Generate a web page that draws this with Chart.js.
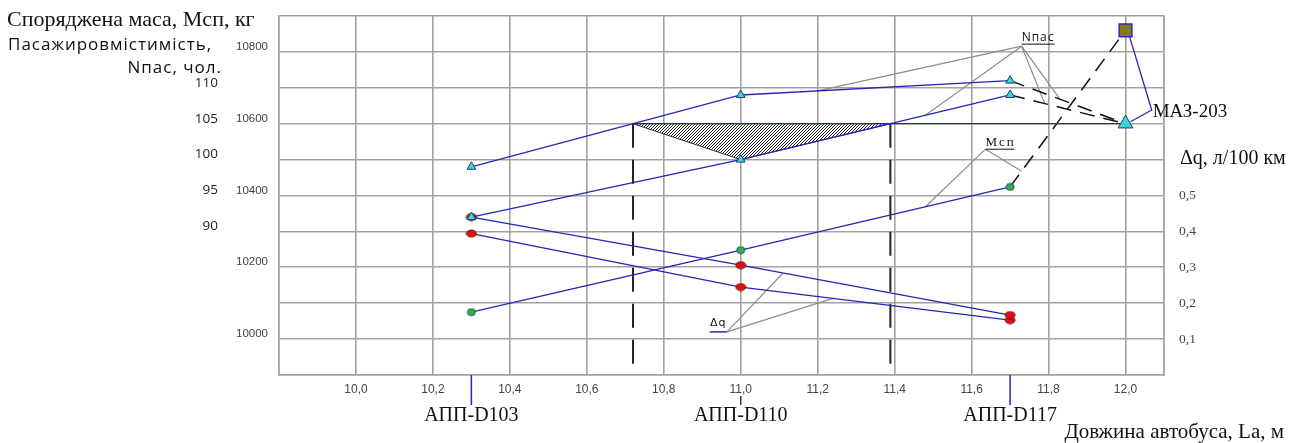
<!DOCTYPE html>
<html lang="uk">
<head>
  <meta charset="UTF-8" />
  <title>Автобуси АПП - маса, пасажировмісткість, витрата палива</title>
  <script src="https://cdn.jsdelivr.net/npm/chart.js@4.4.1/dist/chart.umd.min.js"></script>
  <style>
    body {
      margin: 0;
      background: #fff;
    }
    #wrap {
      width: 1303px;
      height: 443px;
    }
  </style>
</head>
<body>
  <div id="wrap">
    <canvas id="chart" width="1303" height="443"></canvas>
  </div>

  <script>
    // моделі та довжина, м
    const busNames = ['АПП-D103', 'АПП-D110', 'АПП-D117'];
    const busLength = [10.3, 11.0, 11.7];
    // пасажировмісткість, чол. (дві лінії)
    const npasUpper = [99, 109, 111];
    const npasLower = [92, 100, 109];
    // споряджена маса, кг
    const massKerb = [10075, 10248, 10424];
    // Δq, л/100 км
    const dqUpper = [0.44, 0.306, 0.167];
    const dqLower = [0.394, 0.245, 0.153];
    // МАЗ-203
    const mazName = 'МАЗ-203';
    const mazLength = 12.0;
    const mazNpas = 105;
    const mazMass = 10860;

    const xTickVals = [10.0, 10.2, 10.4, 10.6, 10.8, 11.0, 11.2, 11.4, 11.6, 11.8, 12.0];
    const xTickLabels = ['10,0', '10,2', '10,4', '10,6', '10,8', '11,0', '11,2', '11,4', '11,6', '11,8', '12,0'];
    const massTickVals = [10000, 10200, 10400, 10600, 10800];
    const npasTickVals = [90, 95, 100, 105, 110];
    const dqTickVals = [0.1, 0.2, 0.3, 0.4, 0.5];
    const dqTickLabels = ['0,1', '0,2', '0,3', '0,4', '0,5'];

    const BLUE = '#2626b4';
    const GRID = '#a2a2a2';

    function pts(xs, ys) {
      return xs.map((x, i) => ({ x: x, y: ys[i] }));
    }
    function interp(xs, ys, x) {
      for (let i = 0; i < xs.length - 1; i++) {
        if (x >= xs[i] && x <= xs[i + 1]) {
          return ys[i] + (ys[i + 1] - ys[i]) * (x - xs[i]) / (xs[i + 1] - xs[i]);
        }
      }
      return ys[ys.length - 1];
    }
    function crossX(xs, ys, level) {
      for (let i = 0; i < xs.length - 1; i++) {
        if ((ys[i] - level) * (ys[i + 1] - level) <= 0) {
          return xs[i] + (xs[i + 1] - xs[i]) * (level - ys[i]) / (ys[i + 1] - ys[i]);
        }
      }
      return xs[0];
    }
    function ellipse(w, h, fill, stroke) {
      const c = document.createElement('canvas');
      c.width = w + 2; c.height = h + 2;
      const g = c.getContext('2d');
      g.beginPath();
      g.ellipse(c.width / 2, c.height / 2, w / 2, h / 2, 0, 0, Math.PI * 2);
      g.fillStyle = fill; g.fill();
      g.lineWidth = 1; g.strokeStyle = stroke; g.stroke();
      return c;
    }

    // точки перетину з рівнем МАЗ-203
    const xLeft = crossX(busLength, npasUpper, mazNpas);
    const xRight = crossX(busLength, npasLower, mazNpas);

    const redDot = ellipse(10, 7, '#e01010', '#6a1010');
    const greenDot = ellipse(8, 7, '#30b050', '#1f5a30');

    function lineDs(data, axis, extra) {
      return Object.assign({
        data: data, yAxisID: axis, showLine: true, borderColor: BLUE, borderWidth: 1.3,
        pointRadius: 0, fill: false, tension: 0
      }, extra || {});
    }

    const triPt = { pointStyle: 'triangle', pointRadius: 5, pointBackgroundColor: '#3cd6d6', pointBorderColor: '#1d3f6e', pointBorderWidth: 1 };
    const dashBlack = { borderColor: '#111', borderWidth: 1.5, borderDash: [15, 9] };
    const dashVert = { borderColor: '#222', borderWidth: 2, borderDash: [24, 12] };

    const datasets = [
      lineDs(pts([mazLength], [mazNpas]), 'yN', { pointStyle: 'triangle', pointRadius: 8.5, pointBackgroundColor: '#3cd6d6', pointBorderColor: '#1d3f6e', pointBorderWidth: 1 }),
      lineDs(pts([mazLength], [mazMass]), 'yMass', { pointStyle: 'rect', pointRadius: 9, pointBackgroundColor: '#857a16', pointBorderColor: '#2a2ac0', pointBorderWidth: 1.5 }),
      lineDs(pts(busLength, npasUpper), 'yN', triPt),
      lineDs(pts(busLength, npasLower), 'yN', triPt),
      lineDs(pts(busLength, dqUpper), 'yDq', { pointStyle: redDot, pointRadius: 5 }),
      lineDs(pts(busLength, dqLower), 'yDq', { pointStyle: redDot, pointRadius: 5 }),
      lineDs(pts(busLength, massKerb), 'yMass', { pointStyle: greenDot, pointRadius: 4 }),
      lineDs(pts([xLeft, mazLength], [mazNpas, mazNpas]), 'yN'),
      lineDs(pts([busLength[2], mazLength], [npasUpper[2], mazNpas]), 'yN', dashBlack),
      lineDs(pts([busLength[2], mazLength], [npasLower[2], mazNpas]), 'yN', dashBlack),
      lineDs(pts([busLength[2], mazLength], [massKerb[2], mazMass]), 'yMass', dashBlack),
      lineDs(pts([xLeft, xLeft], [mazNpas, 70]), 'yN', dashVert),
      lineDs(pts([xRight, xRight], [mazNpas, 70]), 'yN', dashVert)
    ];

    // штрихування
    function hatchPattern(ctx) {
      const c = document.createElement('canvas');
      c.width = 3; c.height = 3;
      const g = c.getContext('2d');
      g.fillStyle = '#fff'; g.fillRect(0, 0, 3, 3);
      g.strokeStyle = '#222'; g.lineWidth = 1;
      g.beginPath();
      g.moveTo(-1, 4); g.lineTo(4, -1);
      g.moveTo(-1, 1); g.lineTo(1, -1);
      g.moveTo(2, 4); g.lineTo(4, 2);
      g.stroke();
      return ctx.createPattern(c, 'repeat');
    }

    const decor = {
      id: 'decor',
      beforeDatasetsDraw(chart) {
        const { ctx, scales } = chart;
        const x = scales.x, yN = scales.yN;
        ctx.save();
        ctx.beginPath();
        ctx.moveTo(x.getPixelForValue(xLeft), yN.getPixelForValue(mazNpas));
        ctx.lineTo(x.getPixelForValue(busLength[1]), yN.getPixelForValue(npasLower[1]));
        ctx.lineTo(x.getPixelForValue(xRight), yN.getPixelForValue(mazNpas));
        ctx.closePath();
        ctx.fillStyle = hatchPattern(ctx);
        ctx.fill();
        ctx.strokeStyle = '#333'; ctx.lineWidth = 1;
        ctx.stroke();

        // виноски
        ctx.strokeStyle = '#8c8c8c'; ctx.lineWidth = 1.2;
        const leader = (ax, ay, targets) => {
          targets.forEach(t => {
            ctx.beginPath(); ctx.moveTo(ax, ay); ctx.lineTo(t[0], t[1]); ctx.stroke();
          });
        };
        const P = (xv, yv, sc) => [x.getPixelForValue(xv), sc.getPixelForValue(yv)];
        const nAnchor = P(11.73, 115.8, yN);
        leader(nAnchor[0], nAnchor[1], [
          P(11.2, interp(busLength, npasUpper, 11.2), yN),
          P(11.48, interp(busLength, npasLower, 11.48), yN),
          P(11.79, interp([busLength[2], mazLength], [npasLower[2], mazNpas], 11.79), yN),
          P(11.83, interp([busLength[2], mazLength], [npasUpper[2], mazNpas], 11.83), yN)
        ]);
        const mAnchor = P(11.636, 10529, scales.yMass);
        leader(mAnchor[0], mAnchor[1], [
          P(11.48, interp(busLength, massKerb, 11.48), scales.yMass),
          P(11.73, interp([busLength[2], mazLength], [massKerb[2], mazMass], 11.73), scales.yMass)
        ]);
        const qAnchor = P(10.964, 0.12, scales.yDq);
        leader(qAnchor[0], qAnchor[1], [
          P(11.11, interp(busLength, dqUpper, 11.11), scales.yDq),
          P(11.24, interp(busLength, dqLower, 11.24), scales.yDq)
        ]);
        ctx.restore();
      },
      afterDraw(chart) {
        const { ctx, scales, chartArea } = chart;
        const x = scales.x, yN = scales.yN;
        ctx.save();
        ctx.fillStyle = '#111';
        ctx.textBaseline = 'alphabetic';

        // заголовки осей
        ctx.font = '22px "Liberation Serif"';
        ctx.textAlign = 'left';
        ctx.fillText('Споряджена маса, Мсп, кг', 7, 26);
        ctx.font = '17px "Open Sans"';
        ctx.letterSpacing = '1px';
        ctx.fillText('Пасажировмістимість,', 8, 50);
        ctx.textAlign = 'right';
        ctx.fillText('Nпас, чол.', 222, 73);
        ctx.letterSpacing = '0px';

        ctx.textAlign = 'left';
        ctx.font = '20px "Liberation Serif"';
        ctx.fillText('Δq, л/100 км', 1180, 164);
        ctx.font = '21px "Liberation Serif"';
        ctx.textAlign = 'right';
        ctx.fillText('Довжина автобуса, La, м', 1284, 438);

        // підписи моделей
        ctx.textAlign = 'center';
        ctx.font = '20px "Liberation Serif"';
        busNames.forEach((name, i) => {
          const px = x.getPixelForValue(busLength[i]);
          ctx.strokeStyle = BLUE; ctx.lineWidth = 1.5;
          ctx.beginPath();
          ctx.moveTo(px, i === 1 ? chartArea.bottom + 21 : chartArea.bottom);
          ctx.lineTo(px, chartArea.bottom + 30);
          ctx.stroke();
          ctx.fillText(name, px, 421);
        });

        // МАЗ-203
        ctx.font = '19px "Liberation Serif"';
        const sq = [x.getPixelForValue(mazLength), scales.yMass.getPixelForValue(mazMass)];
        const tr = [x.getPixelForValue(mazLength), yN.getPixelForValue(mazNpas)];
        const la = [x.getPixelForValue(12.068), yN.getPixelForValue(106.9)];
        ctx.strokeStyle = BLUE; ctx.lineWidth = 1.3;
        ctx.beginPath();
        ctx.moveTo(sq[0] + 4, sq[1] + 6); ctx.lineTo(la[0], la[1]); ctx.lineTo(tr[0] + 5, tr[1] - 2);
        ctx.stroke();
        ctx.textAlign = 'left';
        ctx.fillText(mazName, la[0] + 1, la[1] + 7);

        // мітки виносок
        const nA = [x.getPixelForValue(11.73), yN.getPixelForValue(115.8)];
        ctx.font = '12px "Open Sans"';
        ctx.letterSpacing = '1px';
        ctx.fillText('Nпас', nA[0], nA[1] - 5);
        ctx.strokeStyle = '#111'; ctx.lineWidth = 1;
        ctx.beginPath(); ctx.moveTo(nA[0], nA[1] - 2); ctx.lineTo(nA[0] + 33, nA[1] - 2); ctx.stroke();

        const mA = [x.getPixelForValue(11.636), scales.yMass.getPixelForValue(10529)];
        ctx.font = '13px "Liberation Serif"';
        ctx.letterSpacing = '2px';
        ctx.fillText('Мсп', mA[0], mA[1] - 3);
        ctx.beginPath(); ctx.moveTo(mA[0], mA[1]); ctx.lineTo(mA[0] + 29, mA[1]); ctx.stroke();

        const qA = [x.getPixelForValue(10.964), scales.yDq.getPixelForValue(0.12)];
        ctx.font = '11px "DejaVu Sans"';
        ctx.letterSpacing = '1px';
        ctx.fillText('Δq', qA[0] - 17, qA[1] - 6);
        ctx.strokeStyle = BLUE; ctx.lineWidth = 1.5;
        ctx.beginPath(); ctx.moveTo(qA[0] - 17, qA[1]); ctx.lineTo(qA[0], qA[1]); ctx.stroke();
        ctx.restore();
      }
    };

    function labelFrom(vals, labels, v) {
      const i = vals.findIndex(t => Math.abs(t - v) < 1e-6);
      return i >= 0 ? labels[i] : '';
    }
    // вертикальні осі без додаткових відступів зверху/знизу
    function fixY(width) {
      return s => { s.width = width; s.paddingTop = 0; s.paddingBottom = 0; };
    }

    new Chart(document.getElementById('chart').getContext('2d'), {
      type: 'scatter',
      data: { datasets: datasets },
      plugins: [decor],
      options: {
        responsive: false,
        animation: false,
        layout: { padding: { top: 16, left: 0, right: 0, bottom: 0 } },
        plugins: { legend: { display: false }, tooltip: { enabled: false } },
        scales: {
          x: {
            type: 'linear', min: 9.8, max: 12.1,
            afterBuildTicks: s => { s.ticks = [9.8].concat(xTickVals, [12.1]).map(v => ({ value: v })); },
            afterFit: s => { s.height = 68; s.paddingLeft = 0; s.paddingRight = 0; },
            grid: { color: GRID, lineWidth: 1.6, drawTicks: false },
            border: { color: GRID, width: 1.6 },
            ticks: {
              padding: 7, color: '#444', font: { family: 'Liberation Sans', size: 12 },
              autoSkip: false, maxRotation: 0,
              callback: v => labelFrom(xTickVals, xTickLabels, v)
            }
          },
          yMass: {
            type: 'linear', position: 'left', weight: 0, min: 9900, max: 10900,
            afterFit: fixY(61),
            grid: { color: GRID, lineWidth: 1.6, drawTicks: false },
            border: { color: GRID, width: 1.6 },
            ticks: {
              stepSize: 100, padding: 11, labelOffset: -5, color: '#444',
              font: { family: 'Liberation Sans', size: 11.5 },
              callback: v => massTickVals.includes(v) ? String(v) : ''
            }
          },
          yN: {
            type: 'linear', position: 'left', weight: 1, min: 70, max: 120,
            afterFit: fixY(218),
            grid: { display: false, drawTicks: false },
            border: { display: false },
            ticks: {
              stepSize: 5, padding: 0, labelOffset: -5, color: '#222',
              font: { family: 'Open Sans', size: 13.5 },
              callback: v => npasTickVals.includes(v) ? String(v) : ''
            }
          },
          yDq: {
            type: 'linear', position: 'right', min: 0, max: 1,
            afterFit: fixY(139),
            grid: { display: false, drawTicks: false },
            border: { color: GRID, width: 1.6 },
            ticks: {
              stepSize: 0.1, padding: 15, color: '#444',
              font: { family: 'Liberation Serif', size: 13.5 },
              callback: v => labelFrom(dqTickVals, dqTickLabels, v)
            }
          }
        }
      }
    });
  </script>
</body>
</html>
